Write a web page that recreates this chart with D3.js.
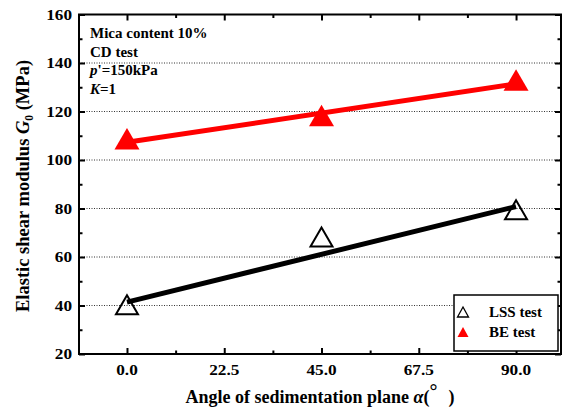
<!DOCTYPE html>
<html>
<head>
<meta charset="utf-8">
<script src="https://cdn.jsdelivr.net/npm/d3@7"></script>
<style>
  html, body { margin: 0; padding: 0; background: #fff; }
  svg { display: block; }
  text { font-family: "Liberation Serif", "Times New Roman", serif; font-weight: bold; fill: #000; }
</style>
</head>
<body>
<svg id="chart" width="563" height="407"></svg>
<script>
// Measured shear modulus versus sedimentation-plane angle
const angles = [0, 45, 90];
const lssValues = [40.3, 68.2, 79.5];
const beValues = [108.8, 118.4, 133.0];

// Straight trend lines through each series (values at 0° and 90°)
const fitAngles = [0, 90];
const lssFit = [41.4, 80.8];
const beFit = [107.3, 131.4];

// Axis ticks
const xMajorTicks = [0, 22.5, 45, 67.5, 90];
const xMinorTicks = [11.25, 33.75, 56.25, 78.75];
const yMajorTicks = [20, 40, 60, 80, 100, 120, 140, 160];
const yMinorTicks = [30, 50, 70, 90, 110, 130, 150];
const gridValues = [40, 60, 80, 100, 120, 140];

const annotationLines = ["Mica content 10%", "CD test", "p'=150kPa", "K=1"];
const legendLabels = ["LSS test", "BE test"];

const svg = d3.select("#chart");
const plotL = 79, plotR = 561, plotT = 14.5, plotB = 354;

const x = d3.scaleLinear().domain([-11.1, 100.4]).range([plotL, plotR]);
const y = d3.scaleLinear().domain([20, 160]).range([plotB, plotT]);

const TICK_SX = 1.15; // tick labels are drawn slightly wide

// dotted horizontal grid
svg.append("g").selectAll("line").data(gridValues).join("line")
  .attr("x1", plotL).attr("x2", plotR)
  .attr("y1", d => y(d)).attr("y2", d => y(d))
  .attr("stroke", "#333").attr("stroke-width", 1)
  .attr("stroke-dasharray", "1,1.5");

// axes with inward ticks on all four sides
function drawAxis(axisGen, transform, ticks, size) {
  const g = svg.append("g").attr("transform", transform)
    .call(axisGen.tickValues(ticks).tickSize(size).tickFormat(""));
  g.select(".domain").remove();
  g.selectAll(".tick line").attr("stroke", "#000").attr("stroke-width", 2);
  return g;
}
drawAxis(d3.axisBottom(x), `translate(0,${plotB})`, xMajorTicks, -6);
drawAxis(d3.axisBottom(x), `translate(0,${plotB})`, xMinorTicks, -3.5);
drawAxis(d3.axisTop(x), `translate(0,${plotT})`, xMajorTicks, -6);
drawAxis(d3.axisTop(x), `translate(0,${plotT})`, xMinorTicks, -3.5);
drawAxis(d3.axisLeft(y), `translate(${plotL},0)`, yMajorTicks, -6);
drawAxis(d3.axisLeft(y), `translate(${plotL},0)`, yMinorTicks, -3.5);
drawAxis(d3.axisRight(y), `translate(${plotR},0)`, yMajorTicks, -6);
drawAxis(d3.axisRight(y), `translate(${plotR},0)`, yMinorTicks, -3.5);

// frame
svg.append("rect")
  .attr("x", plotL).attr("y", plotT)
  .attr("width", plotR - plotL).attr("height", plotB - plotT)
  .attr("fill", "none").attr("stroke", "#000").attr("stroke-width", 2);

// tick labels
svg.append("g").selectAll("text").data(xMajorTicks).join("text")
  .attr("transform", d => `translate(${x(d)},375) scale(${TICK_SX},1)`)
  .attr("text-anchor", "middle").attr("font-size", 15)
  .text(d => d.toFixed(1));
svg.append("g").selectAll("text").data(yMajorTicks).join("text")
  .attr("transform", d => `translate(72,${y(d) + 5}) scale(${TICK_SX},1)`)
  .attr("text-anchor", "end").attr("font-size", 15)
  .text(d => d);

// axis titles
const xt = svg.append("text")
  .attr("x", 320).attr("y", 403)
  .attr("text-anchor", "middle").attr("font-size", 18);
xt.append("tspan").text("Angle of sedimentation plane ");
xt.append("tspan").attr("font-style", "italic").text("α");
xt.append("tspan").text("(");
xt.append("tspan").attr("dy", -5).attr("font-size", 20).text("°");
xt.append("tspan").attr("dy", 5).attr("dx", 11).text(")");

const yt = svg.append("text")
  .attr("transform", "translate(29,186) rotate(-90)")
  .attr("text-anchor", "middle").attr("font-size", 18.5);
yt.append("tspan").text("Elastic shear modulus ");
yt.append("tspan").attr("font-style", "italic").text("G");
yt.append("tspan").attr("font-size", 11.5).attr("dy", 4).text("0");
yt.append("tspan").attr("dy", -4).text(" (MPa)");

// trend lines
const line = d3.line().x(d => x(d[0])).y(d => y(d[1]));
svg.append("path")
  .datum(fitAngles.map((a, i) => [a, lssFit[i]]))
  .attr("d", line).attr("fill", "none")
  .attr("stroke", "#000").attr("stroke-width", 5);
svg.append("path")
  .datum(fitAngles.map((a, i) => [a, beFit[i]]))
  .attr("d", line).attr("fill", "none")
  .attr("stroke", "#ff0000").attr("stroke-width", 5);

// triangle markers, centred on their bounding box
function tri(w, h) {
  return `M0,${-h / 2}L${w / 2},${h / 2}L${-w / 2},${h / 2}Z`;
}
svg.append("g").selectAll("path").data(angles.map((a, i) => [a, lssValues[i]])).join("path")
  .attr("transform", d => `translate(${x(d[0])},${y(d[1])})`)
  .attr("d", tri(22, 19)).attr("fill", "none")
  .attr("stroke", "#000").attr("stroke-width", 2);
svg.append("g").selectAll("path").data(angles.map((a, i) => [a, beValues[i]])).join("path")
  .attr("transform", d => `translate(${x(d[0])},${y(d[1])})`)
  .attr("d", tri(25, 21.5)).attr("fill", "#ff0000");

// condition annotations
const ann = svg.append("g").attr("font-size", 15);
annotationLines.forEach((s, i) => {
  const t = ann.append("text").attr("x", 90).attr("y", 38 + i * 18.6);
  if (s.startsWith("p'")) {
    t.append("tspan").attr("font-style", "italic").text("p");
    t.append("tspan").text(s.slice(1));
  } else if (s.startsWith("K=")) {
    t.append("tspan").attr("font-style", "italic").text("K");
    t.append("tspan").text(s.slice(1));
  } else {
    t.text(s);
  }
});

// legend
const lg = svg.append("g");
lg.append("rect").attr("x", 454).attr("y", 295).attr("width", 104).attr("height", 56)
  .attr("fill", "#fff").attr("stroke", "#000").attr("stroke-width", 1.5);
lg.append("path").attr("transform", "translate(463,312)").attr("d", tri(11, 10))
  .attr("fill", "none").attr("stroke", "#000").attr("stroke-width", 1.3);
lg.append("path").attr("transform", "translate(463,332)").attr("d", tri(11, 10))
  .attr("fill", "#ff0000");
legendLabels.forEach((s, i) => {
  lg.append("text").attr("x", 489).attr("y", 317 + i * 20).attr("font-size", 15).text(s);
});
</script>
</body>
</html>
